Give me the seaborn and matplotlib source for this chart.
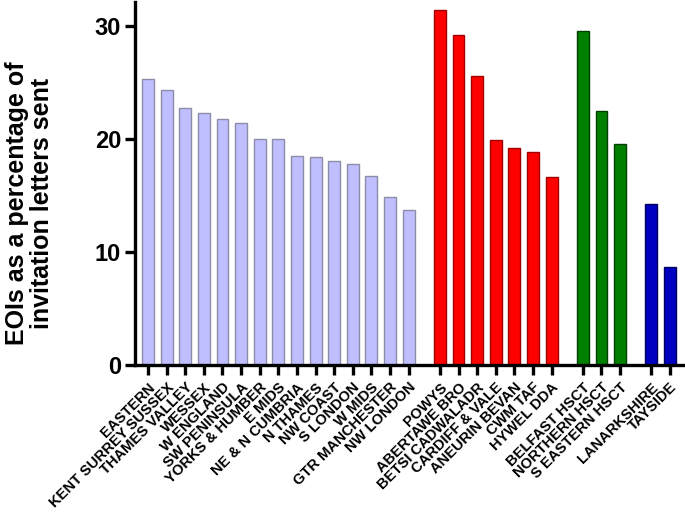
import numpy as np
import pandas as pd
import matplotlib
matplotlib.use("Agg")
import matplotlib.pyplot as plt
import seaborn as sns

england = ["EASTERN", "KENT SURREY SUSSEX", "THAMES VALLEY", "WESSEX", "W ENGLAND",
           "SW PENINSULA", "YORKS & HUMBER", "E MIDS", "NE & N CUMBRIA", "N THAMES",
           "NW COAST", "S LONDON", "W MIDS", "GTR MANCHESTER", "NW LONDON"]
england_vals = [25.25, 24.35, 22.75, 22.3, 21.75, 21.4, 20.0, 19.95, 18.45, 18.35,
                18.05, 17.75, 16.75, 14.9, 13.75]
wales = ["POWYS", "ABERTAWE BRO", "BETSI CADWALADR", "CARDIFF & VALE",
         "ANEURIN BEVAN", "CWM TAF", "HYWEL DDA"]
wales_vals = [31.4, 29.2, 25.6, 19.9, 19.15, 18.85, 16.65]
ni = ["BELFAST HSCT", "NORTHERN HSCT", "S EASTERN HSCT"]
ni_vals = [29.5, 22.5, 19.5]
scotland = ["LANARKSHIRE", "TAYSIDE"]
scotland_vals = [14.2, 8.7]

groups = [("England", england, england_vals, "#BFBFFF", "#8C8CA8"),
          ("Wales", wales, wales_vals, "#FF0000", "#A00000"),
          ("NI", ni, ni_vals, "#008000", "#004000"),
          ("Scotland", scotland, scotland_vals, "#0000C0", "#000060")]

gap = 0.68
rows = []
pos = 0.0
for gi, (g, names, vals, col, ec) in enumerate(groups):
    for n, v in zip(names, vals):
        rows.append(dict(group=g, name=n, value=v, x=pos))
        pos += 1
    pos += gap
df = pd.DataFrame(rows)

sns.set_style("ticks")
plt.rcParams['font.family'] = ['Liberation Sans', 'DejaVu Sans']
plt.rcParams['text.color'] = 'black'
plt.rcParams['axes.labelcolor'] = 'black'
plt.rcParams['xtick.color'] = 'black'
plt.rcParams['ytick.color'] = 'black'

fig = plt.figure(figsize=(6.85, 5.17), dpi=100)
ax = fig.add_axes([135/685, 1 - 365/517, (683-135)/685, (365-2)/517])

palette = {g: c for g, _, _, c, _ in groups}
sns.barplot(data=df, x="x", y="value", hue="group", palette=palette,
            native_scale=True, width=0.64, dodge=False, legend=False, ax=ax,
            linewidth=1.0, saturation=1)
edge = {g: e for g, _, _, _, e in groups}
for patch, g in zip(ax.patches, df["group"]):
    patch.set_edgecolor(edge[g])

ax.set_xlim(df["x"].min() - 0.7, df["x"].max() + 0.7)
ax.set_ylim(0, 32.1)
ax.set_yticks([0, 10, 20, 30])
ax.set_yticklabels(["0", "10", "20", "30"], fontsize=17, fontweight="bold")
ax.set_xticks(df["x"])
ax.set_xticklabels(df["name"], rotation=45, ha="right", rotation_mode="anchor",
                   fontsize=10.6, fontweight="bold")
ax.set_xlabel("")
ax.set_ylabel("EOIs as a percentage of\ninvitation letters sent", fontsize=18,
              fontweight="bold", linespacing=1.1)
ax.yaxis.set_label_coords(-0.147, 0.446)
for s in ["top", "right"]:
    ax.spines[s].set_visible(False)
for s in ["left", "bottom"]:
    ax.spines[s].set_linewidth(2.4)
    ax.spines[s].set_color("black")
ax.tick_params(axis="both", width=2.4, length=7, color="black", pad=3)
ax.tick_params(axis="x", pad=4)

fig.savefig("out.png", dpi=100)
